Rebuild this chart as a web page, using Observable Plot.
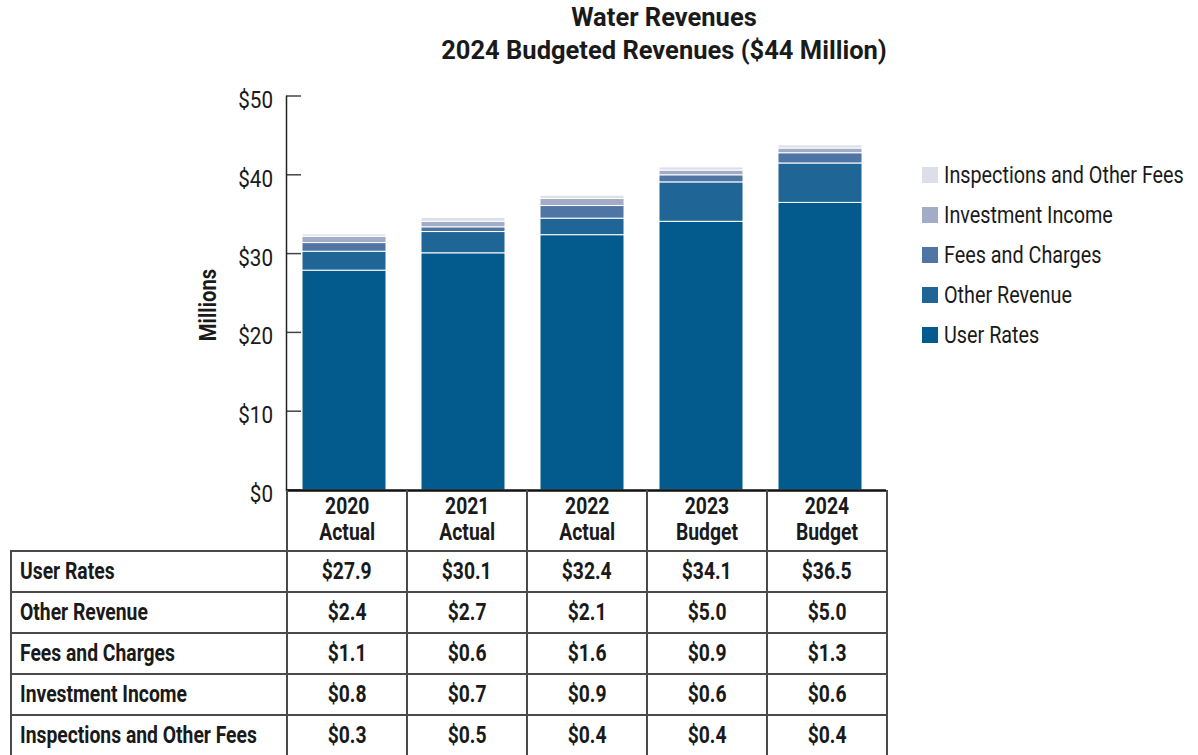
<!DOCTYPE html>
<html>
<head>
<meta charset="utf-8">
<script src="https://cdn.jsdelivr.net/npm/d3@7"></script>
<script src="https://cdn.jsdelivr.net/npm/@observablehq/plot@0.6"></script>
<style>
  body { margin: 0; background: #fff; }
  #wrap { position: relative; width: 1198px; height: 755px; font-family: Roboto, "Liberation Sans", sans-serif; color: #1a1a1a; }
  #title { position: absolute; left: 380px; width: 568px; top: 1px; text-align: center; font-weight: bold; font-size: 25.5px; line-height: 33px; }
  #title span { display: inline-block; white-space: nowrap; }
  #ylab { position: absolute; left: 208px; top: 305px; font-weight: bold; font-size: 23px; transform: translate(-50%, -50%) rotate(-90deg) scaleX(0.88); white-space: nowrap; }
  #legend { position: absolute; left: 922px; top: 155px; font-size: 23px; }
  .li { height: 40px; display: flex; align-items: center; white-space: nowrap; }
  .sw { width: 16px; height: 16px; margin-right: 6px; flex: none; }
  .li span { display: inline-block; transform: scaleX(0.86); transform-origin: left center; }
  #tbl { position: absolute; left: 10px; top: 490px; border-collapse: collapse; table-layout: fixed; font-size: 23px; font-weight: bold; width: 876px; }
  #tbl td { border: 2px solid #4a4a4a; padding: 0; height: 39px; text-align: center; white-space: nowrap; overflow: visible; }
  #tbl td span { display: inline-block; transform: scaleX(0.84); }
  #tbl td.lab { text-align: left; padding-left: 8px; }
  #tbl td.lab span { transform-origin: left center; }
  #tbl tr.hd td { height: 60px; line-height: 26px; border-top: none; }
  #tbl tr.hd td.blank { border: none; border-bottom: 2px solid #4a4a4a; }
</style>
</head>
<body>
<div id="wrap">
  <div id="title"><span>Water Revenues</span><br><span>2024 Budgeted Revenues ($44 Million)</span></div>
  <div id="chart"></div>
  <div id="ylab">Millions</div>
  <div id="legend"></div>
  <table id="tbl"><colgroup><col style="width:276px"><col style="width:120px"><col style="width:120px"><col style="width:120px"><col style="width:120px"><col style="width:120px"></colgroup><tbody></tbody></table>
</div>
<script>
const years = ["2020", "2021", "2022", "2023", "2024"];
const yearLabels = ["Actual", "Actual", "Actual", "Budget", "Budget"];
const series = ["User Rates", "Other Revenue", "Fees and Charges", "Investment Income", "Inspections and Other Fees"];
const colors = ["#035a8c", "#1f6596", "#4e75a4", "#a2acc7", "#dcdfea"];
const userRates = [27.9, 30.1, 32.4, 34.1, 36.5];
const otherRevenue = [2.4, 2.7, 2.1, 5.0, 5.0];
const feesCharges = [1.1, 0.6, 1.6, 0.9, 1.3];
const investmentIncome = [0.8, 0.7, 0.9, 0.6, 0.6];
const inspections = [0.3, 0.5, 0.4, 0.4, 0.4];
const yTicks = [0, 10, 20, 30, 40, 50];

const valuesBySeries = [userRates, otherRevenue, feesCharges, investmentIncome, inspections];
const data = [];
series.forEach((s, i) => years.forEach((y, j) => data.push({year: y, series: s, value: valuesBySeries[i][j]})));

const chart = Plot.plot({
  width: 1198,
  height: 755,
  marginLeft: 286,
  marginRight: 314,
  marginTop: 96,
  marginBottom: 265,
  style: {fontFamily: 'Roboto, sans-serif', fontSize: "22px", color: "#1a1a1a"},
  x: {domain: years, paddingInner: 0.29, paddingOuter: 0.15, align: 0.43, axis: null},
  y: {domain: [0, 50], axis: null},
  color: {domain: series, range: colors},
  marks: [
    Plot.barY(data, {x: "year", y: "value", fill: "series", order: series, stroke: "white", strokeWidth: 1}),
    // y ticks and labels (drawn through the y scale)
    Plot.tickY(yTicks, {y: d => d,
      render: (idx, scales, vals, dims) => {
        const g = d3.create("svg:g");
        for (const i of idx) {
          const yy = vals.y[i];
          g.append("line").attr("x1", dims.marginLeft).attr("x2", dims.marginLeft + 15)
            .attr("y1", yy).attr("y2", yy).attr("stroke", "#444").attr("stroke-width", 1.5);
          g.append("text").attr("transform", `translate(${dims.marginLeft - 13},${yy + 12}) scale(0.86,1)`)
            .attr("text-anchor", "end").attr("font-size", 24).attr("fill", "#1a1a1a").text("$" + yTicks[i]);
        }
        return g.node();
      }}),
    Plot.frame({anchor: "left", stroke: "#222", strokeWidth: 1.5}),
    Plot.ruleY([0], {stroke: "#111", strokeWidth: 2.5, insetRight: -2})
  ]
});
document.getElementById("chart").appendChild(chart);

// legend (top to bottom: reverse order)
const legend = document.getElementById("legend");
[...series].reverse().forEach(s => {
  const c = colors[series.indexOf(s)];
  const d = document.createElement("div");
  d.className = "li";
  d.innerHTML = `<div class="sw" style="background:${c}"></div><span>${s}</span>`;
  legend.appendChild(d);
});

// table
const tb = document.querySelector("#tbl tbody");
let html = `<tr class="hd"><td class="blank"></td>` + years.map((y, j) => `<td><span>${y}<br>${yearLabels[j]}</span></td>`).join("") + `</tr>`;
series.forEach((s, i) => {
  html += `<tr><td class="lab"><span>${s}</span></td>` + valuesBySeries[i].map(v => `<td><span>$${v.toFixed(1)}</span></td>`).join("") + `</tr>`;
});
tb.innerHTML = html;
</script>
</body>
</html>
